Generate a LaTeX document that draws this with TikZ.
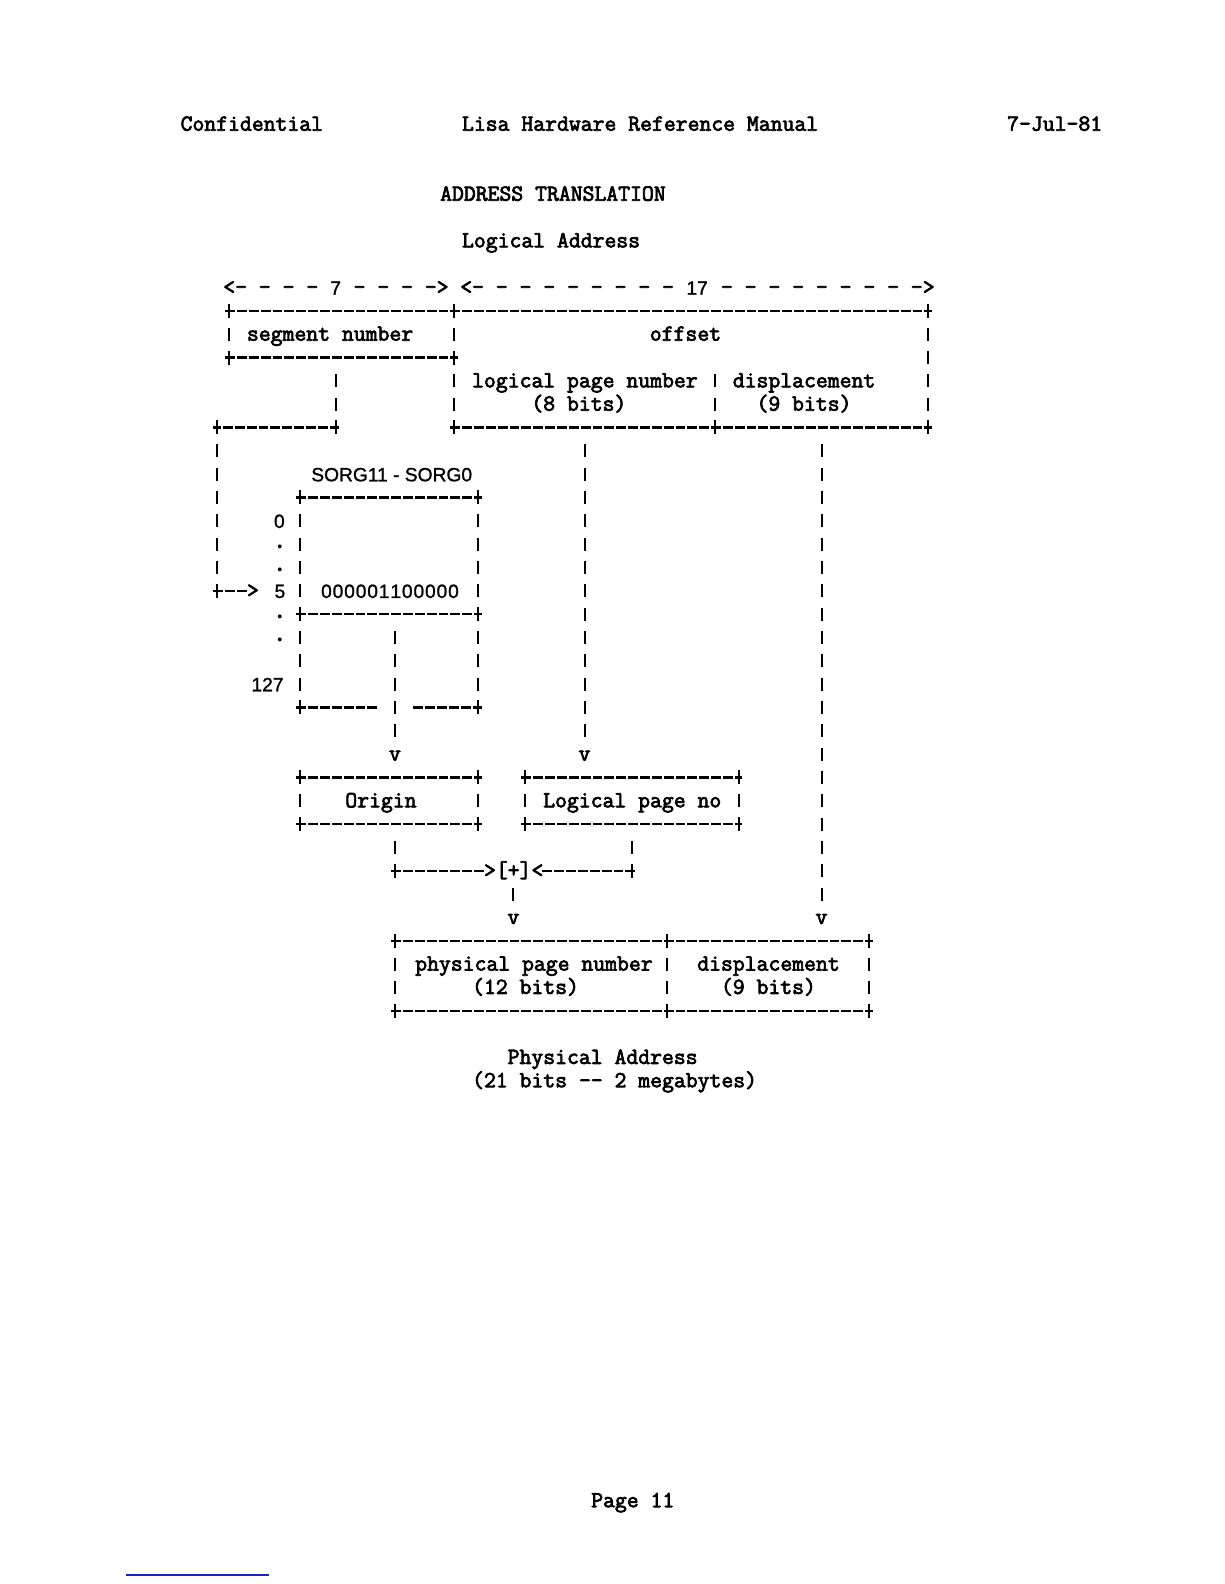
\documentclass[tikz,border=0pt]{standalone}
\usepackage{fontspec}
\newfontfamily\tyfam{Latin Modern Mono}[FakeBold=3]
\newfontfamily\sgfam{Liberation Sans}[FakeBold=1.2]
\newfontfamily\dotfam{Liberation Serif}
\newcommand\tyfont{\tyfam\fontsize{23.05pt}{26pt}\selectfont}
\newcommand\sgfont{\sgfam\fontsize{19.2pt}{22pt}\selectfont}
\newcommand\dotfont{\dotfam\bfseries\fontsize{24pt}{26pt}\selectfont}
\def\spreaddigits#1{\spreadnext#1\relax}
\def\spreadnext#1{\ifx\relax#1\else\makebox[11.55pt]{#1}\expandafter\spreadnext\fi}
\definecolor{linkblue}{RGB}{25,35,205}
\tikzset{
  tx/.style={font=\tyfont, inner sep=0pt, anchor=base west, yshift=-6.5pt},
  txc/.style={font=\tyfont, inner sep=0pt, anchor=base, yshift=-6.5pt},
  sg/.style={font=\sgfont, inner sep=0pt, anchor=mid, yshift=-5pt},
  dotmark/.style={font=\dotfont, inner sep=0pt, anchor=base, yshift=-1pt},
  hline/.style={line width=2.3pt, dash pattern=on 9.85pt off 2pt},
  vline/.style={line width=2pt, dash pattern=on 13pt off 10.33pt},
  plusbar/.style={line width=2pt},
}
\newcommand\bars[2]{\draw[vline] ([yshift=6.5pt]#1) -- ([yshift=-6.5pt]#2);}
\newcommand\plusat[1]{\draw[plusbar] ([yshift=7pt]#1) -- ([yshift=-7pt]#1);}
\newcommand\hseg[2]{\draw[hline] (#1) -- (#2);}
\begin{document}
\begin{tikzpicture}[x=1pt,y=-1pt]
\useasboundingbox (0,0) rectangle (1224,1584);
\fill[white] (0,0) rectangle (1224,1584);
\draw[linkblue, line width=1.6pt] (126,1575) -- (269,1575);
\begin{scope}[x=11.85pt,y=-23.33pt,shift={(229pt,-124.2pt)}]
% header
\node[tx] (conf) at (-4.1,0) {Confidential};
\node[tx] (manual) at (19.65,0) {Lisa Hardware Reference Manual};
\node[tx,anchor=base east] (date) at (73.7,0) {7-Jul-81};
\node[tx] (title) at (17.8,3) {ADDRESS TRANSLATION};
\node[tx] (logaddr) at (19.65,5) {Logical Address};
% width arrows
\node[tx] (a7l) at (-0.5,7) {<- - - -};
\node[sg] (n7) at (9,7) {7};
\node[tx] (a7r) at (10.5,7) {- - - ->};
\node[tx] (a17l) at (19.5,7) {<- - - - - - - - -};
\node[sg] (n17) at (39.5,7) {17};
\node[tx] (a17r) at (41.5,7) {- - - - - - - - ->};
% logical address box
\hseg{-0.32,8}{59.32,8} \plusat{0,8}\plusat{19,8}\plusat{59,8}
\bars{0,9}{0,9} \bars{19,9}{19,9} \bars{59,9}{59,12}
\hseg{-0.32,10}{19.32,10} \plusat{0,10}\plusat{19,10}
\bars{19,11}{19,12} \bars{41,11}{41,12}
\hseg{18.68,13}{59.32,13} \plusat{19,13}\plusat{41,13}\plusat{59,13}
\node[tx] (seg) at (1.5,9) {segment number};
\node[tx] (off) at (35.5,9) {offset};
\node[tx] (lpn) at (20.5,11) {logical page number};
\node[tx] (disp) at (42.5,11) {displacement};
\node[tx] (lpnb) at (25.5,12) {(8 bits)};
\node[tx] (dispb) at (44.5,12) {(9 bits)};
% segment number -> segment table
\coordinate (segtap) at (9,10);
\coordinate (segturn) at (9,13);
\coordinate (leftturn) at (-1,13);
\coordinate (leftdown) at (-1,20);
\coordinate (ptr) at (1.55,20);
\bars{9,11}{9,12}
\draw[hline] ([xshift=3.8pt]segturn) -- ([xshift=-3.8pt]leftturn);
\plusat{segturn}\plusat{leftturn}
\bars{-1,14}{-1,19}
\plusat{leftdown}
\draw[hline] ([xshift=-3.8pt]leftdown) -- (ptr);
\node[tx] (gt5) at (1.5,20) {>};
% segment origin table
\node[sg] (sorg) at (13.73,15) {SORG11 - SORG0};
\hseg{5.68,16}{21.32,16} \plusat{6,16}\plusat{21,16}
\bars{6,17}{6,20}\bars{21,17}{21,20}
\hseg{5.68,21}{21.32,21} \plusat{6,21}\plusat{21,21}
\bars{6,22}{6,24}\bars{21,22}{21,24}
\hseg{5.68,25}{12.45,25}\hseg{15.55,25}{21.32,25}\plusat{6,25}\plusat{21,25}
\node[sg] (i0) at (4.25,17) {0};
\node[dotmark] (d1) at (4.3,18.13) {.};
\node[dotmark] (d2) at (4.3,19.13) {.};
\node[sg] (i5) at (4.3,20) {5};
\node[dotmark] (d3) at (4.3,21.13) {.};
\node[dotmark] (d4) at (4.3,22.13) {.};
\node[sg] (i127) at (3.25,24) {127};
\node[sg,anchor=mid west] (entry) at (7.72,20) {\spreaddigits{000001100000}};
% table -> origin
\bars{14,22}{14,26}
\node[txc] (vO) at (14,27) {v};
% logical page number -> logical page no
\bars{30,14}{30,26}
\node[txc] (vL) at (30,27) {v};
% displacement -> physical displacement
\bars{50,14}{50,33}
\node[txc] (vD) at (50,34) {v};
% origin box
\hseg{5.68,28}{21.32,28} \plusat{6,28}\plusat{21,28}
\bars{6,29}{6,29}\bars{21,29}{21,29}
\hseg{5.68,30}{21.32,30} \plusat{6,30}\plusat{21,30}
\node[tx] (origin) at (9.8,29) {Origin};
% logical page no box
\hseg{24.68,28}{43.32,28} \plusat{25,28}\plusat{43,28}
\bars{25,29}{25,29}\bars{43,29}{43,29}
\hseg{24.68,30}{43.32,30} \plusat{25,30}\plusat{43,30}
\node[tx] (lpage) at (26.5,29) {Logical page no};
% adder
\coordinate (ojoin) at (14,32);
\coordinate (ljoin) at (34,32);
\node[tx] (adder) at (21.5,32) {>[+]<};
\bars{14,31}{14,31}
\plusat{ojoin}
\draw[hline] ([xshift=-3.8pt]ojoin) -- (21.6,32);
\draw[hline] (26.45,32) -- ([xshift=3.8pt]ljoin);
\plusat{ljoin}
\bars{34,31}{34,31}
\bars{24,33}{24,33}
\node[txc] (vP) at (24,34) {v};
% physical address box
\hseg{13.68,35}{54.32,35} \plusat{14,35}\plusat{37,35}\plusat{54,35}
\bars{14,36}{14,37}\bars{37,36}{37,37}\bars{54,36}{54,37}
\hseg{13.68,38}{54.32,38} \plusat{14,38}\plusat{37,38}\plusat{54,38}
\node[tx] (ppn) at (15.7,36) {physical page number};
\node[tx] (pdisp) at (39.5,36) {displacement};
\node[tx] (ppnb) at (20.5,37) {(12 bits)};
\node[tx] (pdispb) at (41.5,37) {(9 bits)};
\node[tx] (physaddr) at (23.5,40) {Physical Address};
\node[tx] (physbits) at (20.5,41) {(21 bits -\kern0pt- 2 megabytes)};
% footer
\node[tx] (page) at (30.55,59) {Page 11};
\end{scope}
\end{tikzpicture}
\end{document}
